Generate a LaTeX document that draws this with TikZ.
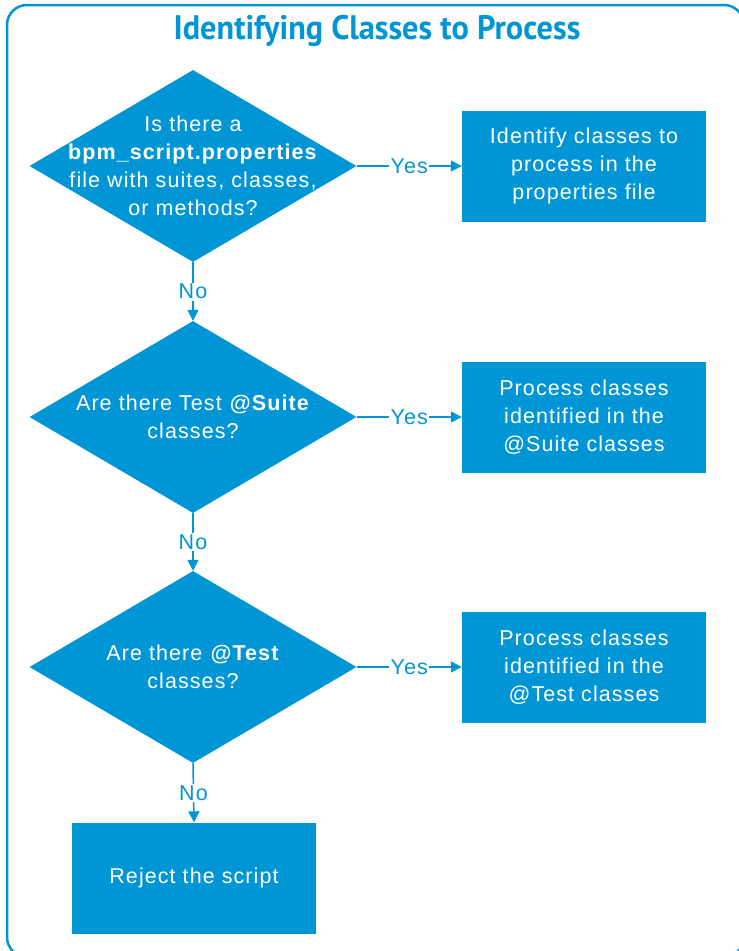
\documentclass[tikz,border=0pt]{standalone}
\usepackage{fontspec}
\setmainfont[LetterSpace=5]{Liberation Sans}
\newfontfamily\titlefont[FakeStretch=0.95,BoldFont={PT Sans Bold}]{PT Sans}
\usetikzlibrary{shapes.geometric,arrows.meta,positioning}
\definecolor{hpblue}{RGB}{0,150,214}
\begin{document}
\begin{tikzpicture}[x=1pt, y=-1pt,
    decision/.style={diamond, fill=hpblue, aspect=1.7, inner sep=0pt,
        minimum width=327pt, minimum height=192pt},
    dtext/.style={text=white, align=center, font=\fontsize{21.5}{28}\selectfont},
    process/.style={rectangle, fill=hpblue, inner sep=0pt, text=white, align=center,
        minimum width=244pt, minimum height=111pt, font=\fontsize{21.5}{28}\selectfont},
    link/.style={draw=hpblue, line width=1.5pt, -{Triangle[length=11pt,width=11pt]}},
    answer/.style={fill=white, text=hpblue, inner sep=1.5pt, font=\fontsize{21.5}{24}\selectfont}]
    \useasboundingbox (0,0) rectangle (739,951);
    \clip (0,0) rectangle (739,951);

    % --- Frame and title ---
    \draw[hpblue, line width=2.5pt, rounded corners=20pt] (7,5) rectangle (744,957);
    \node[text=hpblue, font=\titlefont\bfseries\fontsize{34}{36}\selectfont] (title) at (377,31)
        {Identifying Classes to Process};

    % --- Decisions ---
    \node[decision] (suitefile) at (193,166) {};
    \node[dtext] at (suitefile) {Is there a\\ \textbf{bpm\_script.properties}\\ file with suites, classes,\\ or methods?};

    \node[decision] (suiteclass) at (193,417) {};
    \node[dtext] at (suiteclass) {Are there Test \textbf{@Suite}\\ classes?};

    \node[decision] (testclass) at (193,667) {};
    \node[dtext] at (testclass) {Are there \textbf{@Test}\\ classes?};

    % --- Results ---
    \node[process] (fromfile) at (584,166) {Identify classes to\\ process in the\\ properties file};
    \node[process] (fromsuite) at (584,417) {Process classes\\ identified in the\\ @Suite classes};
    \node[process] (fromtest) at (584,667) {Process classes\\ identified in the\\ @Test classes};
    \node[process] (reject) at (194,878) {Reject the script};

    % --- Connectors ---
    \draw[link] (suitefile.east) -- node[answer] {Yes} (fromfile.west);
    \draw[link] (suiteclass.east) -- node[answer] {Yes} (fromsuite.west);
    \draw[link] (testclass.east) -- node[answer] {Yes} (fromtest.west);
    \draw[link] (suitefile.south) -- node[answer] {No} (suiteclass.north);
    \draw[link] (suiteclass.south) -- node[answer] {No} (testclass.north);
    \draw[link] (testclass.south) -- node[answer] {No} (reject.north);
\end{tikzpicture}
\end{document}
